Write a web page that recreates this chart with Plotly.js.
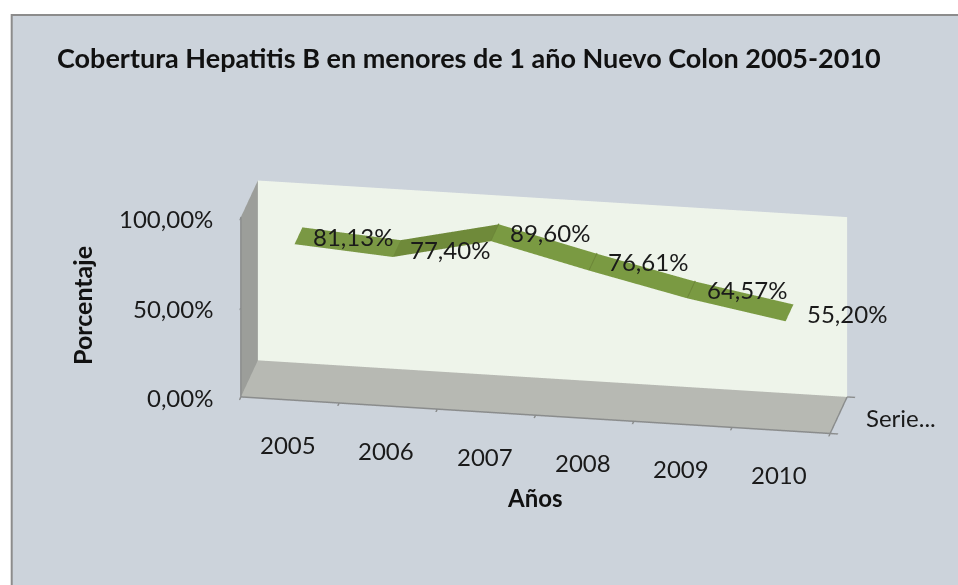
<!DOCTYPE html>
<html><head><meta charset="utf-8"><script src="https://cdn.plot.ly/plotly-3.0.0.min.js"></script>
<style>html,body{margin:0;background:#fff}</style></head><body><div id="c" style="width:958px;height:585px"></div>
<script>
const years=['2005','2006','2007','2008','2009','2010'];
const values=[81.13,77.40,89.60,76.61,64.57,55.20];
const labels=['81,13%','77,40%','89,60%','76,61%','64,57%','55,20%'];
const segColors=['#7a9844','#6f8a3a','#7a9a42','#7a9a42','#7a9a42'];
const zTicks=[0,50,100];
const zLabels=['0,00%','50,00%','100,00%'];
const seriesName='Serie...';
const labelOffset=[[12.5,-1],[11.5,-1],[12.5,0],[13,1],[13.5,1],[15,0]];
const xs=years.map((_,i)=>i+0.5);
const F='Lato, "Open Sans", sans-serif', C='#1a1a1a', S=24;
const traces=segColors.map((col,i)=>({type:'surface',x:[xs[i],xs[i+1]],y:[0.27,0.73],z:[[values[i],values[i+1]],[values[i],values[i+1]]],showscale:false,colorscale:[[0,col],[1,col]],hoverinfo:'skip',lighting:{ambient:1,diffuse:0,specular:0,roughness:1,fresnel:0}}));
const jx=[],jy=[],jz=[];
[2,3,4].forEach(i=>{jx.push(xs[i],xs[i],null);jy.push(0.27,0.73,null);jz.push(values[i]+0.4,values[i]+0.4,null);});
traces.push({type:'scatter3d',mode:'lines',x:jx,y:jy,z:jz,line:{color:'#6c8638',width:2},hoverinfo:'skip'});
const ann=[];
labels.forEach((t,i)=>ann.push({x:xs[i],y:0.5,z:values[i],text:t,showarrow:false,xanchor:'left',yanchor:'middle',xshift:labelOffset[i][0],yshift:labelOffset[i][1],font:{family:F,size:S,color:C}}));
years.forEach((t,i)=>ann.push({x:xs[i],y:0,z:0,text:t,showarrow:false,xanchor:'center',yanchor:'middle',xshift:-2,yshift:-44,font:{family:F,size:S,color:C}}));
zTicks.forEach((v,i)=>ann.push({x:0,y:0,z:v,text:zLabels[i],showarrow:false,xanchor:'right',yanchor:'middle',xshift:-26,yshift:-1,font:{family:F,size:S,color:C}}));
ann.push({x:6,y:0.5,z:0,text:seriesName,showarrow:false,xanchor:'left',yanchor:'middle',xshift:25,yshift:-2,font:{family:F,size:S,color:C}});
const ax={showgrid:false,zeroline:false,showspikes:false,showline:true,linecolor:'#8a8c8c',linewidth:3,ticks:'outside',ticklen:8,tickcolor:'#8a8c8c',tickwidth:3,showticklabels:false,title:{text:''}};
Plotly.newPlot('c',traces,{width:958,height:585,paper_bgcolor:'#fff',showlegend:false,margin:{l:0,r:0,t:0,b:0},
 shapes:[{type:'rect',xref:'paper',yref:'paper',x0:11.7/958,x1:1.01,y0:-0.01,y1:1-15/585,fillcolor:'#ccd3db',line:{color:'#8c8c8c',width:2},layer:'below'}],
 annotations:[
  {xref:'paper',yref:'paper',x:55/958,y:1-58/585,xanchor:'left',yanchor:'middle',showarrow:false,text:'<b>Cobertura Hepatitis B en menores de 1 año Nuevo Colon 2005-2010</b>',font:{family:F,size:27,color:'#111'}},
  {xref:'paper',yref:'paper',x:535/958,y:1-497/585,xanchor:'center',yanchor:'middle',showarrow:false,text:'<b>Años</b>',font:{family:F,size:24,color:'#111'}},
  {xref:'paper',yref:'paper',x:82/958,y:1-306/585,xanchor:'center',yanchor:'middle',showarrow:false,textangle:-90,text:'<b>Porcentaje</b>',font:{family:F,size:25,color:'#111'}}
 ],
 scene:{domain:{x:[0.136,1],y:[0,0.95]},aspectmode:'manual',aspectratio:{x:2.15,y:0.365,z:0.695},
  camera:{projection:{type:'orthographic'},eye:{x:0.524,y:-3.085,z:1.229},up:{x:0,y:0,z:1}},
  annotations:ann,dragmode:false,
  xaxis:Object.assign({},ax,{range:[0,6],tickvals:[0,1,2,3,4,5,6],showbackground:true,backgroundcolor:'#9c9e9a'}),
  yaxis:Object.assign({},ax,{range:[0,1],tickvals:[0,1],showbackground:true,backgroundcolor:'#eef4ea'}),
  zaxis:Object.assign({},ax,{range:[0,100],tickvals:zTicks,showbackground:true,backgroundcolor:'#b7b9b3'})}
},{displayModeBar:false});
</script></body></html>
